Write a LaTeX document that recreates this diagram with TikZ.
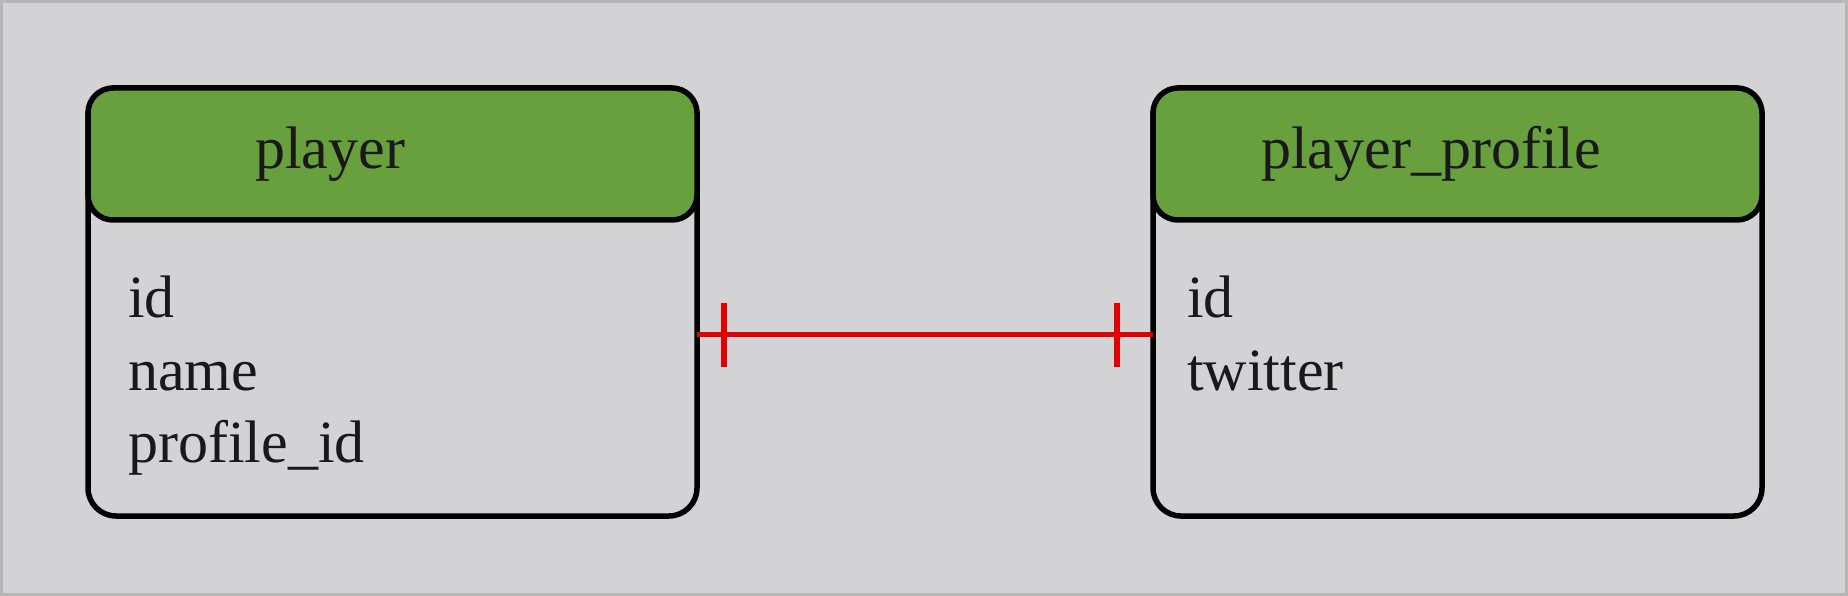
\documentclass[tikz,border=0pt]{standalone}
\usepackage{fontspec}
\setmainfont{Liberation Serif}
\definecolor{bgc}{RGB}{211,211,213}
\definecolor{framec}{RGB}{182,182,182}
\definecolor{headc}{RGB}{103,160,61}
\definecolor{relc}{RGB}{226,0,0}
\begin{document}
\begin{tikzpicture}[x=1pt,y=-1pt,
  tablebox/.style={draw=black, line width=5.5pt, rounded corners=28pt, fill=bgc,
    minimum width=609pt, minimum height=428pt, inner sep=0pt, outer sep=0pt, anchor=north west},
  headbox/.style={draw=black, line width=5.5pt, rounded corners=25pt, fill=headc,
    minimum width=609pt, minimum height=132pt, inner sep=0pt, outer sep=0pt, anchor=north west},
  ttl/.style={font=\fontsize{60}{72}\selectfont, inner sep=0pt, anchor=base west, text=black!90},
  fld/.style={font=\fontsize{60}{72}\selectfont, inner sep=0pt, anchor=base west, text=black!90},
  rel/.style={draw=relc, line width=5.5pt}
]
\useasboundingbox (0,0) rectangle (1848,596);
\draw[framec, fill=bgc, line width=3pt] (1.5,1.5) rectangle (1846.5,594.5);

% player table
\node[tablebox] (player) at (88,88) {};
\node[headbox] (playerhead) at (88,88) {};
\node[ttl] (playerttl) at (255,169) {player};
\node[fld] (p1) at (128,317) {id};
\node[fld] (p2) at (128,390) {name};
\node[fld] (p3) at (128,462) {profile\_id};

% player_profile table
\node[tablebox] (profile) at (1153,88) {};
\node[headbox] (profilehead) at (1153,88) {};
\node[ttl] (profilettl) at (1261,169) {player\_profile};
\node[fld] (q1) at (1187,317) {id};
\node[fld] (q2) at (1187,390) {twitter};

% relationship
\coordinate (ly) at (0,334.5);
\draw[rel] (player.east |- ly) -- (profile.west |- ly);
\draw[rel] ([xshift=27pt]player.east |- ly) ++(0,-32) -- ++(0,64);
\draw[rel] ([xshift=-36pt]profile.west |- ly) ++(0,-32) -- ++(0,64);
\end{tikzpicture}
\end{document}
